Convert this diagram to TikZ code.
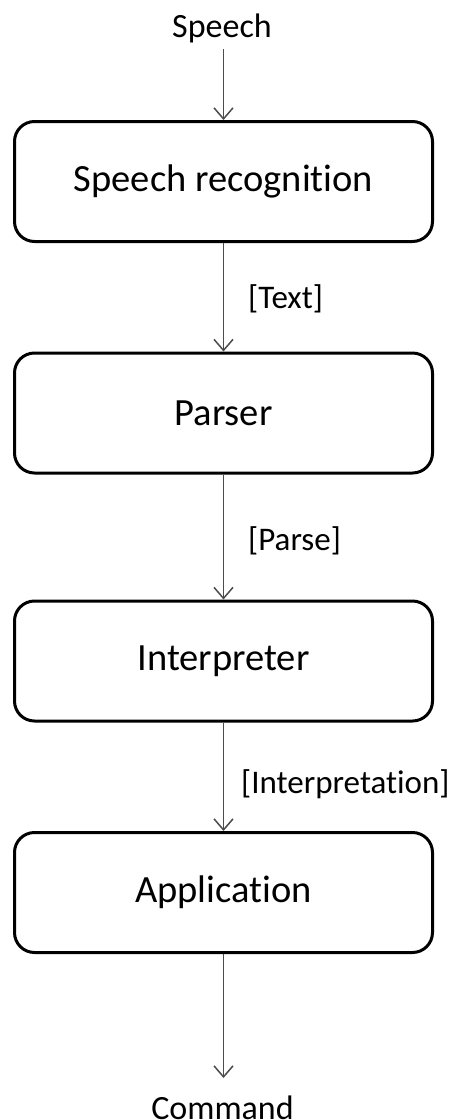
\documentclass[tikz,border=0pt]{standalone}
\usepackage{fontspec}
\setmainfont{Carlito}[Ligatures=NoCommon]
\usetikzlibrary{arrows.meta}
\begin{document}
\begin{tikzpicture}[x=1pt,y=-1pt,
  stage/.style={draw=black, line width=3pt, rounded corners=20pt, fill=white,
    minimum width=418pt, minimum height=120pt, inner sep=0pt,
    font=\fontsize{38.5}{42}\selectfont},
  flow/.style={draw=black!70, line width=1.5pt,
    -{Straight Barb[length=11pt,width=19pt,line width=1.5pt]}},
  lbl/.style={inner sep=0pt, anchor=base west, font=\fontsize{33}{38}\selectfont},
  io/.style={inner sep=0pt, anchor=base, font=\fontsize{34}{38}\selectfont}]
\useasboundingbox (0,0) rectangle (462,1120);
\fill[white] (0,0) rectangle (462,1120);
\node[io] (speech) at (222,37) {Speech};
\coordinate (sin) at (223.5,49);
\node[stage] (sr) at (223.5,181.5) {Speech recognition};
\node[stage] (parser) at (223.5,413) {Parser};
\node[stage] (interp) at (223.5,661) {Interpreter};
\node[stage] (app) at (223.5,892.5) {Application};
\coordinate (cout) at (223.5,1078);
\node[io] (command) at (222.5,1119) {Command};
\draw[flow] (sin) -- (sr.north);
\draw[flow] (sr.south) -- (parser.north);
\draw[flow] (parser.south) -- (interp.north);
\draw[flow] (interp.south) -- (app.north);
\draw[flow] (app.south) -- (cout);
\node[lbl] (ltext) at (248,308) {[Text]};
\node[lbl] (lparse) at (248,550) {[Parse]};
\node[lbl] (linterp) at (241,793) {[Interpretation]};
\end{tikzpicture}
\end{document}
